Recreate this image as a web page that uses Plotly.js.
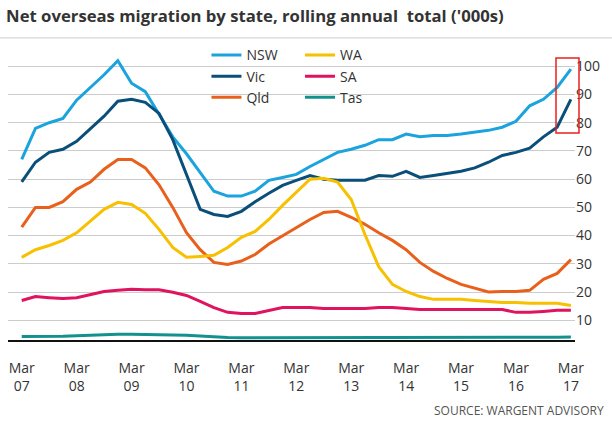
<!DOCTYPE html><html><head><script src="https://cdn.plot.ly/plotly-3.0.1.min.js"></script>
<style>body{margin:0}</style></head><body><div id="c" style="width:612px;height:425px"></div><script>
const quarters=[...Array(41).keys()];
const tickVals=[0,4,8,12,16,20,24,28,32,36,40];
const tickText=["Mar<br>07","Mar<br>08","Mar<br>09","Mar<br>10","Mar<br>11","Mar<br>12","Mar<br>13","Mar<br>14","Mar<br>15","Mar<br>16","Mar<br>17"];
const nsw=[67,78,80,81.5,88,92.5,97,102,94,91,83,75,69,62.4,55.7,54,54,55.7,59.6,60.6,61.7,64.5,67,69.5,70.6,72,74,74,76,75,75.5,75.5,76,76.6,77.3,78.4,80.5,86,88.3,92.5,99];
const vic=[59,66,69.5,70.6,73.4,77.7,82.3,87.6,88.3,87.2,83.3,74,61.7,49.3,47.5,46.8,48.6,52,55,57.8,59.6,61.3,60,59.6,59.6,59.6,61.3,61,62.8,60.6,61.3,62,62.8,64,66,68.4,69.5,71,75,78.4,88.3];
const qld=[43,50,50,52,56.4,59,63.5,67,67,64,58,50,41,35,30.5,29.8,31,33.3,37,40,43,45.7,48.2,48.6,46.5,44,41,38.3,35,30.5,27.3,24.8,22.7,21.3,20,20.2,20.2,20.6,24.5,26.6,31.5];
const wa=[32.3,35,36.5,38.3,41,45,49.3,51.8,51,47.9,42.2,35.8,32.3,32.6,33,35.8,39.4,41.5,45.7,50.7,55.3,60,60.3,59,52.8,40.4,29,22.7,20.2,18.4,17.4,17.4,17.4,17,16.7,16.3,16.3,16,16,16,15.2];
const sa=[17,18.4,18,17.7,18,19,20.2,20.6,21,20.8,20.8,19.9,18.8,16.7,14.5,12.8,12.4,12.4,13.5,14.5,14.5,14.5,14.2,14.2,14.2,14.2,14.5,14.5,14.2,13.8,13.8,13.8,13.8,13.8,13.8,13.8,12.8,12.8,13.1,13.5,13.5];
const tas=[4.2,4.2,4.2,4.3,4.5,4.7,4.9,5,5,5,4.9,4.8,4.7,4.4,4.1,3.9,3.8,3.8,3.8,3.8,3.8,3.8,3.8,3.8,3.8,3.9,3.9,3.9,3.9,3.9,3.9,3.9,3.9,3.9,3.9,3.9,3.9,3.9,3.9,4,4.1];
const series=[["NSW",nsw,"#1ba3de","legend"],["Vic",vic,"#0a4f7a","legend"],["Qld",qld,"#e8601c","legend"],["WA",wa,"#f7c000","legend2"],["SA",sa,"#e0135e","legend2"],["Tas",tas,"#13918f","legend2"]];
const data=series.map(s=>({x:quarters,y:s[1],name:s[0],legend:s[3],type:"scatter",mode:"lines",line:{color:s[2],width:3}}));
const lg={orientation:"v",y:1.055,yanchor:"top",xanchor:"left",tracegroupgap:0,itemwidth:30,font:{size:14,color:"#333"},bgcolor:"rgba(255,255,255,0)"};
Plotly.newPlot("c",data,{
 width:612,height:425,margin:{l:8,r:37,t:55,b:85},paper_bgcolor:"#fff",plot_bgcolor:"#fff",
 font:{family:"Open Sans, sans-serif",color:"#333"},
 title:{text:"<b>Net overseas migration by state, rolling annual  total ('000s)</b>",x:0.01,xanchor:"left",y:0.975,yanchor:"top",font:{size:16.7,color:"#333"}},
 xaxis:{range:[-1,40.3],tickvals:tickVals,ticktext:tickText,showgrid:false,zeroline:false,showline:true,linecolor:"#111",linewidth:1.5,ticks:"",ticklabelstandoff:14,tickfont:{size:14,color:"#333"}},
 yaxis:{range:[3,104],side:"right",tickvals:[10,20,30,40,50,60,70,80,90,100],gridcolor:"#ccc",zeroline:false,ticks:"",tickfont:{size:14,color:"#333"}},
 legend:Object.assign({x:0.35},lg),
 legend2:Object.assign({x:0.515},lg),
 showlegend:true,
 shapes:[{type:"line",xref:"paper",yref:"paper",x0:-0.02,x1:1.07,y0:1.06,y1:1.06,line:{color:"#ccc",width:1}},
 {type:"rect",xref:"paper",yref:"paper",x0:(556-8)/567,x1:(579-8)/567,y0:(340-133)/285,y1:(340-58)/285,line:{color:"#e8201c",width:1.5}}],
 annotations:[{text:"SOURCE: WARGENT ADVISORY",xref:"paper",yref:"paper",x:1.055,y:-0.21,xanchor:"right",yanchor:"top",showarrow:false,font:{size:12,color:"#555"}}]
},{displayModeBar:false});
</script></body></html>
